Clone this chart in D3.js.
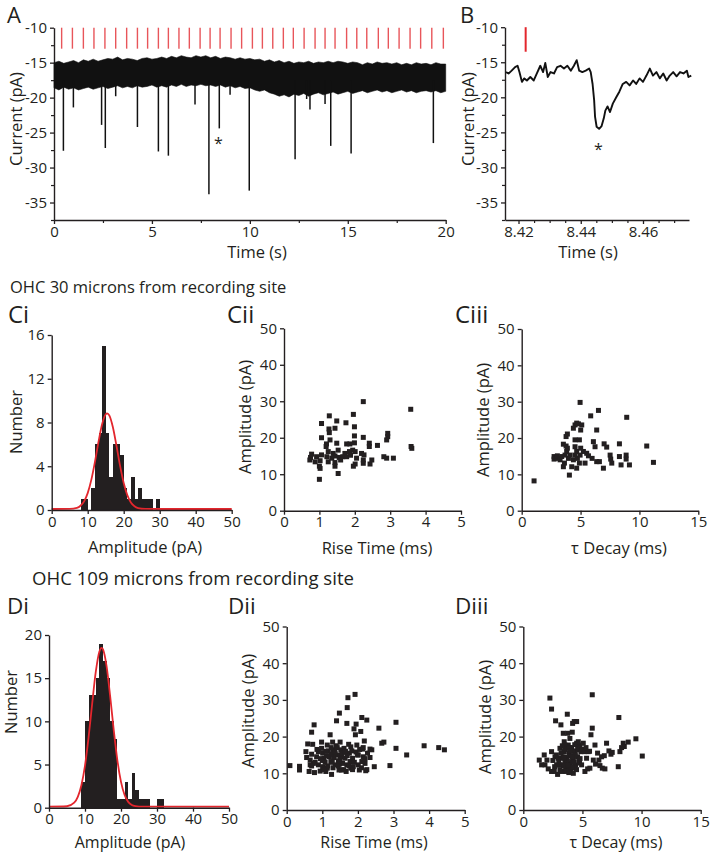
<!DOCTYPE html>
<html><head><meta charset="utf-8">
<script src="https://cdn.jsdelivr.net/npm/d3@7"></script>
<style>
body{margin:0;background:#fff}
svg{display:block}
text{font-family:'Open Sans',sans-serif;fill:#231f20}
</style>
</head><body>
<svg id="c" width="710" height="853"></svg>
<script>
// ---------------- DATA ----------------
// Panel A: 20 s recording, baseline noise envelope (pA)
const envTimes = [0,0.25,0.5,0.75,1,1.25,1.5,1.75,2,2.25,2.5,2.75,3,3.25,3.5,3.75,4,4.25,4.5,4.75,5,5.25,5.5,5.75,6,6.25,6.5,6.75,7,7.25,7.5,7.75,8,8.25,8.5,8.75,9,9.25,9.5,9.75,10,10.25,10.5,10.75,11,11.25,11.5,11.75,12,12.25,12.5,12.75,13,13.25,13.5,13.75,14,14.25,14.5,14.75,15,15.25,15.5,15.75,16,16.25,16.5,16.75,17,17.25,17.5,17.75,18,18.25,18.5,18.75,19,19.25,19.5,19.75,20];
const envUpper = [-15.0,-14.8,-15.1,-14.9,-14.7,-15.0,-14.6,-14.8,-14.5,-14.8,-14.6,-14.4,-14.5,-14.2,-14.6,-14.4,-14.5,-14.7,-14.4,-14.3,-14.5,-14.4,-14.2,-14.4,-14.1,-14.3,-14.0,-14.2,-14.3,-14.0,-14.2,-14.0,-14.3,-14.1,-14.4,-14.2,-14.3,-14.5,-14.3,-14.5,-14.4,-14.6,-14.5,-14.8,-14.6,-14.9,-14.7,-15.0,-14.8,-15.1,-14.9,-15.0,-14.8,-15.1,-14.9,-15.0,-14.8,-15.0,-14.8,-14.9,-15.1,-14.9,-15.0,-15.3,-15.0,-15.2,-14.9,-15.1,-15.0,-15.2,-15.0,-15.3,-15.1,-15.3,-15.0,-15.2,-15.1,-15.3,-15.0,-15.2,-15.2];
const envLower = [-18.6,-18.9,-18.5,-18.8,-18.6,-18.9,-18.7,-18.5,-18.8,-18.6,-18.4,-18.7,-18.5,-18.3,-18.6,-18.4,-18.6,-18.3,-18.5,-18.4,-18.2,-18.5,-18.3,-18.5,-18.2,-18.4,-18.1,-18.4,-18.2,-18.3,-18.1,-18.3,-18.2,-18.4,-18.2,-18.5,-18.3,-18.6,-18.4,-18.7,-18.6,-18.9,-19.1,-18.9,-19.3,-19.5,-19.8,-19.6,-19.9,-19.5,-19.7,-19.4,-19.8,-19.5,-19.3,-19.6,-19.4,-19.2,-19.5,-19.3,-19.1,-19.4,-19.2,-19.0,-19.3,-19.1,-18.9,-19.2,-19.0,-19.3,-19.1,-18.9,-19.2,-19.0,-19.3,-19.1,-19.0,-19.2,-19.0,-19.3,-19.1];
// spontaneous events (time s, peak pA)
const eventTimes = [0.48,0.99,2.43,2.62,3.15,4.26,5.33,5.84,7.2,7.91,8.44,8.99,9.97,12.31,12.9,13.07,13.84,14.13,15.17,19.37];
const eventPeaks = [-27.6,-21.4,-23.9,-27.2,-19.8,-24.2,-27.7,-28.3,-21,-33.8,-24.4,-19.6,-33.3,-28.8,-20.2,-21.7,-20.9,-26.9,-28.0,-26.5];
// stimulus markers (s)
const stimTimes = [0.39,0.94,1.50,2.04,2.60,3.15,3.71,4.26,4.78,5.33,5.84,6.38,6.91,7.46,7.97,8.48,9.04,9.58,10.13,10.64,11.17,11.71,12.22,12.77,13.33,13.84,14.35,14.94,15.46,15.97,16.56,17.07,17.62,18.18,18.72,19.29,19.88];
const starA = {t: 8.39, v: -26.1};

// Panel B: expanded single event
const traceBTime = [8.4160,8.4168,8.4178,8.4189,8.4197,8.4203,8.4211,8.4218,8.4227,8.4238,8.4249,8.4259,8.4270,8.4279,8.4286,8.4294,8.4303,8.4314,8.4324,8.4335,8.4346,8.4357,8.4368,8.4378,8.4387,8.4395,8.4405,8.4416,8.4427,8.4432,8.4438,8.4443,8.4446,8.4451,8.4459,8.4467,8.4474,8.4479,8.4486,8.4494,8.4503,8.4514,8.4524,8.4535,8.4546,8.4557,8.4568,8.4578,8.4589,8.4600,8.4611,8.4622,8.4632,8.4643,8.4654,8.4665,8.4676,8.4686,8.4697,8.4708,8.4719,8.4730,8.4741,8.4746,8.4755];
const traceBCurrent = [-16.4,-16.6,-16.2,-15.7,-15.5,-16.4,-17.8,-17.3,-17.6,-17.1,-17.6,-16.6,-15.5,-16.4,-15.1,-17.1,-16.4,-16.6,-15.7,-15.5,-15.9,-15.5,-16.2,-15.5,-14.7,-16.2,-16.4,-16.2,-15.9,-16.4,-18.1,-20.4,-22.8,-24.2,-24.5,-24.1,-23.0,-21.9,-21.3,-22.1,-20.9,-20.0,-19.2,-18.1,-17.8,-18.3,-17.6,-18.1,-17.3,-17.8,-16.9,-15.9,-16.9,-16.4,-17.3,-16.6,-17.6,-16.9,-16.4,-17.0,-16.4,-16.6,-16.2,-17.1,-16.9];
const stimB = 8.4223;
const starB = {t: 8.4457, v: -27};

// Ci histogram (bin start pA, count), 1 pA bins
const ciBins = [8,9,10,11,12,13,14,15,16,17,18,19,20,21,22,23,24,25,26,27,28,29];
const ciCounts = [1,1,0,2,6,7,15,7,3,6,6,5,2,1,3,1,2,1,1,1,0,1];
const ciFitX = [0,5,7,8,9,10,11,12,13,14,15,15.4,16,17,18,19,20,21,22,23,24,26,30,50];
const ciFitY = [0,0.01,0.11,0.30,0.70,1.45,2.66,4.29,6.14,7.75,8.66,8.75,8.56,7.47,5.77,3.94,2.38,1.27,0.60,0.25,0.09,0.01,0,0];

// Cii scatter
const ciiRise = [3.58,2.24,1.28,1.96,1.49,1.06,1.75,1.27,1.44,1.99,1.28,1.06,1.99,2.24,2.93,2.93,2.90,1.30,1.49,1.20,1.77,1.86,1.99,2.41,2.41,2.64,3.59,3.61,1.19,1.53,1.94,1.25,1.39,1.44,1.72,1.85,2.01,2.19,2.26,0.78,0.75,0.92,1.06,1.21,1.35,1.56,1.66,1.77,1.88,2.05,0.73,0.88,1.02,1.25,1.44,1.60,2.82,2.90,3.09,2.24,2.48,2.24,2.43,2.01,1.96,1.00,1.02,1.44,1.53,1.00];
const ciiAmp = [27.8,29.9,26.0,26.4,24.6,23.9,24.1,22.4,22.6,23.0,21.4,20.0,20.5,20.1,21.2,20.3,19.4,19.4,18.5,18.3,18.3,18.3,18.6,18.5,17.6,17.9,17.6,17.1,17.6,16.6,16.6,16.2,15.7,15.0,15.7,16.2,16.2,15.7,15.3,15.5,14.6,14.8,15.3,14.8,14.4,14.6,14.8,14.8,15.2,14.4,13.9,13.4,13.7,13.4,13.2,13.9,14.8,14.4,14.4,13.9,13.9,13.0,12.8,12.8,12.2,12.2,11.6,12.2,10.2,8.6];

// Ciii scatter
const ciiiDecay = [1.05,2.75,2.75,3.03,3.40,3.54,3.63,3.54,3.77,3.88,3.77,3.88,3.82,4.11,3.97,4.05,4.25,4.39,4.39,4.53,4.67,4.82,4.53,4.90,4.53,4.67,4.53,4.73,4.67,4.96,5.01,5.10,5.01,4.96,4.90,5.24,5.52,5.67,5.86,5.98,6.09,6.23,6.37,6.52,6.37,6.60,6.94,7.00,7.22,7.51,7.56,7.65,8.30,8.30,8.44,8.87,8.87,8.92,9.15,10.62,11.19,3.03,3.26,5.38,3.68];
const ciiiAmp = [8.2,14.9,14.2,14.4,14.9,12.1,13.1,18.3,20.4,21.1,17.8,17.2,16.3,15.3,14.4,9.8,12.1,14.0,22.7,23.6,24.1,23.9,19.5,19.5,17.6,16.3,15.3,14.4,11.7,29.8,22.2,23.6,17.2,15.3,13.1,16.3,15.8,15.1,26.1,14.4,19.0,17.6,22.2,27.6,13.5,13.5,11.7,18.4,17.5,15.3,14.2,13.1,18.4,14.9,12.6,15.3,14.2,25.7,12.6,17.8,13.3,15.1,14.0,13.1,15.3];

// Di histogram
const diBins = [9,10,11,12,13,14,15,16,17,18,19,20,21,22,23,24,25,26,27,28,29,30,31];
const diCounts = [3,10,13,13,15,19,17,15,10,8,1,1,3,1,4,2,1,1,1,0,0,1,1];
const diFitX = [0,5,7,8,9,10,11,12,13,14,14.6,15,16,17,18,19,20,21,22,23,24,26,30,50];
const diFitY = [0,0.05,0.46,1.14,2.49,4.77,8.05,11.96,15.63,17.98,18.4,18.21,16.24,12.75,8.80,5.35,2.87,1.35,0.56,0.20,0.07,0,0,0];

// Dii scatter
const diiRise = [0.09,0.36,0.36,0.54,0.59,0.56,0.63,0.70,0.77,0.73,0.66,0.70,0.75,0.78,0.84,0.89,0.94,0.98,0.98,1.01,1.05,1.08,1.10,1.14,1.17,1.20,1.22,1.24,1.26,1.29,1.31,1.33,1.36,1.39,1.40,1.43,1.45,1.47,1.48,1.50,1.52,1.54,1.57,1.61,1.64,1.67,1.69,1.70,1.72,1.74,1.76,1.78,1.80,1.83,1.85,1.89,1.92,1.93,1.95,1.97,1.99,2.01,2.04,2.08,2.11,2.13,2.15,2.18,2.20,2.22,2.25,2.27,2.34,2.39,2.46,2.59,2.67,2.73,2.90,3.07,3.07,3.37,3.86,4.27,4.43,1.54,1.87,1.01,0.66,1.14,1.36,1.69,2.11,1.25,1.48,0.89,2.01,1.64,2.34,
  1.0,1.1,1.15,1.25,1.3,1.35,1.42,1.45,1.55,1.6,1.7,1.75,1.8,1.9,1.95,2.05,2.1,2.15,2.2,2.25,0.8,0.85,0.95,1.05,0.7,1.12,1.28,1.5,1.65,1.85];
const diiAmp = [12.1,11.9,10.9,15.9,18.0,14.3,10.5,21.2,23.2,17.9,13.6,15.2,12.7,10.2,14.5,12.3,10.6,18.5,16.8,15.5,14.1,13.0,10.5,17.7,16.1,14.5,20.5,13.2,9.7,18.5,16.4,14.3,12.3,17.5,24.3,15.0,13.4,10.9,26.4,18.5,16.4,14.5,12.7,16.8,14.1,10.5,23.6,27.9,30.6,17.9,15.5,13.2,11.4,16.1,14.1,22.1,31.5,20.5,23.4,17.7,15.0,12.3,10.9,21.4,25.2,16.6,14.5,18.8,12.7,10.7,24.5,15.5,14.3,16.4,11.8,22.3,18.2,18.5,12.1,23.9,16.8,15.0,17.5,17.0,16.4,10.9,11.8,11.8,12.3,11.4,15.5,12.3,13.2,15.2,12.5,15.9,15.0,15.7,16.6,
  13.5,16.0,12.0,17.0,11.5,15.8,17.0,12.0,15.5,11.0,14.8,12.0,17.2,13.0,15.8,16.5,11.5,17.0,14.0,11.0,13.0,16.5,14.0,11.0,12.0,14.8,13.0,14.0,16.0,11.0];

// Diii scatter
const diiiDecay = [1.35,1.77,1.83,2.0,2.11,2.25,2.39,2.39,2.39,2.62,2.73,2.68,2.82,2.90,3.04,3.10,3.18,3.24,3.30,3.38,3.46,3.46,3.52,3.58,3.66,3.72,3.75,3.80,3.86,3.94,4.0,4.08,4.14,4.17,4.23,4.23,4.31,4.37,4.42,4.51,4.51,4.59,4.65,4.70,4.79,4.87,4.93,5.07,5.15,5.21,5.35,5.44,5.49,5.63,5.72,5.83,5.83,5.92,6.06,6.11,6.28,6.39,6.48,6.62,6.68,6.85,6.90,7.04,7.24,7.41,7.52,8.03,8.08,8.17,8.31,8.45,8.54,8.87,9.52,10.06,3.52,3.94,3.24,3.80,4.37,2.96,3.38,4.08,3.66,4.65,1.55,
  3.0,3.2,3.4,3.5,3.6,3.7,3.9,4.0,4.1,4.2,4.3,4.4,4.5,4.6,3.3,3.1,2.8,2.5,4.8,5.0,3.75,3.95,4.15,3.45,2.65,4.75,5.3,5.6,3.85,4.35];
const diiiAmp = [13.6,15.0,12.3,13.6,11.2,30.5,27.5,15.9,10.5,10.5,24.3,14.5,12.3,9.7,12.3,16.8,23.2,14.1,10.5,20.9,18.6,15.9,13.2,11.4,14.3,26.1,20.9,17.7,15.5,12.7,10.5,17.0,21.2,23.6,14.1,10.0,24.1,16.1,12.3,24.1,18.2,14.5,16.4,13.6,17.7,15.9,12.3,18.2,15.9,10.5,14.1,11.2,15.9,11.4,20.5,31.4,22.3,13.6,17.7,12.5,15.5,13.6,12.1,14.5,11.4,14.8,11.2,18.2,16.1,15.2,15.7,11.8,25.2,15.9,17.0,18.2,17.3,18.5,19.4,14.7,17.7,19.5,12.3,11.4,11.4,14.1,14.5,13.2,16.8,18.6,12.3,
  13.0,15.5,12.0,16.5,10.5,13.5,17.0,14.8,11.8,16.0,13.0,15.0,11.0,17.0,17.5,11.0,15.0,13.5,14.0,16.5,12.2,16.2,14.5,14.2,11.8,12.8,17.0,16.0,10.2,17.8];

// tick labels
const tracesYTicks = [-10,-15,-20,-25,-30,-35];
const tracesYMinor = [-12.5,-17.5,-22.5,-27.5,-32.5,-37.5];
const aXTicks = [0,5,10,15,20];
const aXMinor = [2.5,7.5,12.5,17.5];
const bXTicks = [8.42,8.44,8.46];
const bXMinor = [8.425,8.43,8.435,8.445,8.45,8.455,8.465,8.47];
const ampXTicks = [0,10,20,30,40,50];
const ciYTicks = [0,4,8,12,16];
const diYTicks = [0,5,10,15,20];
const scatYTicks = [0,10,20,30,40,50];
const riseTicks = [0,1,2,3,4,5];
const decayTicks = [0,5,10,15];

// ---------------- DRAWING ----------------
const svg = d3.select('#c');
const INK = '#231f20', RED = '#e3262d', STIM = '#e8555a';
const TICKFS = 15, TITLEFS = 16.5, TITLEFS_D = 16;

function styleAxis(g){
  g.attr('font-family',"'Open Sans',sans-serif").attr('font-size',TICKFS);
  g.select('.domain').attr('stroke',INK).attr('stroke-width',1.4);
  g.selectAll('.tick line').attr('stroke',INK).attr('stroke-width',1.3);
  g.selectAll('.tick text').attr('fill',INK);
}
function axes(x, y, xt, yt, opt){
  opt = opt || {};
  const y0 = y.range()[0], x0 = x.range()[0];
  const gx = svg.append('g').attr('transform',`translate(0,${y0})`)
    .call(d3.axisBottom(x).tickValues(xt).tickFormat(opt.xf || (d=>d)).tickSize(4).tickSizeOuter(0).tickPadding(2));
  styleAxis(gx);
  const gy = svg.append('g').attr('transform',`translate(${x0},0)`)
    .call(d3.axisLeft(y).tickValues(yt).tickFormat(opt.yf || (d=>d)).tickSize(4).tickSizeOuter(0).tickPadding(3));
  styleAxis(gy);
  if (opt.xm){
    const m = svg.append('g').attr('transform',`translate(0,${y0})`)
      .call(d3.axisBottom(x).tickValues(opt.xm).tickFormat('').tickSize(3).tickSizeOuter(0));
    m.select('.domain').remove(); m.selectAll('line').attr('stroke',INK).attr('stroke-width',1.2);
  }
  if (opt.ym){
    const m = svg.append('g').attr('transform',`translate(${x0},0)`)
      .call(d3.axisLeft(y).tickValues(opt.ym).tickFormat('').tickSize(3).tickSizeOuter(0));
    m.select('.domain').remove(); m.selectAll('line').attr('stroke',INK).attr('stroke-width',1.2);
  }
}
function text(str, x, y, fs, anchor, rot){
  const t = svg.append('text').text(str).attr('font-size',fs).attr('text-anchor',anchor||'start');
  if (rot) t.attr('transform',`translate(${x},${y}) rotate(-90)`).attr('dy','0.35em');
  else t.attr('x',x).attr('y',y);
  return t;
}
const minus = d => (d<0 ? '-' + Math.abs(d) : d);

// ----- Panel A -----
const xA = d3.scaleLinear().domain([0,20]).range([54,445.7]);
const yA = d3.scaleLinear().domain([-37.5,-10]).range([220,27.7]);
axes(xA, yA, aXTicks, tracesYTicks, {xm:aXMinor, ym:tracesYMinor, yf:minus});
svg.append('g').selectAll('line').data(stimTimes).join('line')
  .attr('x1',d=>xA(d)).attr('x2',d=>xA(d)).attr('y1',yA(-10)).attr('y2',yA(-13))
  .attr('stroke',STIM).attr('stroke-width',1.4);
const envIdx = d3.range(envTimes.length);
svg.append('path').datum(envIdx)
  .attr('d', d3.area().x(i=>xA(envTimes[i])).y0(i=>yA(envLower[i])).y1(i=>yA(envUpper[i])))
  .attr('fill','#111').attr('stroke','#111').attr('stroke-width',0.6);
svg.append('g').selectAll('line').data(d3.range(eventTimes.length)).join('line')
  .attr('x1',i=>xA(eventTimes[i])).attr('x2',i=>xA(eventTimes[i]))
  .attr('y1',yA(-17.5)).attr('y2',i=>yA(eventPeaks[i]))
  .attr('stroke','#111').attr('stroke-width',1.5);
text('*', xA(starA.t), yA(starA.v)+9, 16, 'middle');
text('A', 7, 23, 22);
text('Current (pA)', 16, 119, TITLEFS, 'middle', true);
text('Time (s)', 257, 258, TITLEFS, 'middle');

// ----- Panel B -----
const xB = d3.scaleLinear().domain([8.41566,8.47478]).range([505,689]);
const yB = d3.scaleLinear().domain([-37.5,-10]).range([220,27.2]);
axes(xB, yB, bXTicks, tracesYTicks, {xm:bXMinor, ym:tracesYMinor, yf:minus, xf:d3.format('.2f')});
svg.append('line').attr('x1',xB(stimB)).attr('x2',xB(stimB)).attr('y1',yB(-10)).attr('y2',yB(-13.5))
  .attr('stroke',RED).attr('stroke-width',2);
svg.append('path').datum(d3.range(traceBTime.length))
  .attr('d', d3.line().x(i=>xB(traceBTime[i])).y(i=>yB(traceBCurrent[i])))
  .attr('fill','none').attr('stroke','#111').attr('stroke-width',1.9).attr('stroke-linejoin','round');
text('*', xB(starB.t), yB(starB.v)+9, 16, 'middle');
text('B', 460, 23, 22);
text('Current (pA)', 468, 119, TITLEFS, 'middle', true);
text('Time (s)', 588, 258, TITLEFS, 'middle');

// ----- section titles -----
text('OHC 30 microns from recording site', 10, 293, 16.5);
text('OHC 109 microns from recording site', 32, 585, 18.6);

// histogram helper
function hist(x, y, bins, counts, fitX, fitY){
  svg.append('g').selectAll('rect').data(d3.range(bins.length)).join('rect')
    .attr('x',i=>x(bins[i])).attr('width',i=>x(bins[i]+1)-x(bins[i]))
    .attr('y',i=>y(counts[i])).attr('height',i=>y(0)-y(counts[i]))
    .attr('fill',INK).attr('shape-rendering','crispEdges');
  svg.append('path').datum(d3.range(fitX.length))
    .attr('d', d3.line().x(i=>x(fitX[i])).y(i=>y(fitY[i])-1).curve(d3.curveMonotoneX))
    .attr('fill','none').attr('stroke',RED).attr('stroke-width',1.8);
}
function scatter(x, y, xs, ys){
  svg.append('g').selectAll('rect').data(d3.range(xs.length)).join('rect')
    .attr('x',i=>x(xs[i])-2.5).attr('y',i=>y(ys[i])-2.5).attr('width',5).attr('height',5)
    .attr('fill',INK);
}

// ----- Ci -----
const xCi = d3.scaleLinear().domain([0,50]).range([51.7,231.7]);
const yCi = d3.scaleLinear().domain([0,16]).range([510,335]);
hist(xCi, yCi, ciBins, ciCounts, ciFitX, ciFitY);
axes(xCi, yCi, ampXTicks, ciYTicks);
text('Ci', 8, 323, 24);
text('Number', 16, 422, TITLEFS, 'middle', true);
text('Amplitude (pA)', 145, 553, TITLEFS, 'middle');

// ----- Cii -----
const xCii = d3.scaleLinear().domain([0,5]).range([284,461]);
const yCii = d3.scaleLinear().domain([0,50]).range([510.7,328.3]);
axes(xCii, yCii, riseTicks, scatYTicks);
scatter(xCii, yCii, ciiRise, ciiAmp);
text('Cii', 227, 323, 24);
text('Amplitude (pA)', 245, 417, TITLEFS, 'middle', true);
text('Rise Time (ms)', 377, 554, TITLEFS, 'middle');

// ----- Ciii -----
const xCiii = d3.scaleLinear().domain([0,15]).range([521.7,698.3]);
const yCiii = d3.scaleLinear().domain([0,50]).range([510.7,329]);
axes(xCiii, yCiii, decayTicks, scatYTicks);
scatter(xCiii, yCiii, ciiiDecay, ciiiAmp);
text('Ciii', 455, 323, 24);
text('Amplitude (pA)', 483, 420, TITLEFS, 'middle', true);
text('\u03c4 Decay (ms)', 619, 554, TITLEFS, 'middle');

// ----- Di -----
const xDi = d3.scaleLinear().domain([0,50]).range([49,229]);
const yDi = d3.scaleLinear().domain([0,20]).range([807.7,635]);
hist(xDi, yDi, diBins, diCounts, diFitX, diFitY);
axes(xDi, yDi, ampXTicks, diYTicks);
text('Di', 7, 614, 22.5);
text('Number', 11, 702, TITLEFS, 'middle', true);
text('Amplitude (pA)', 130, 848, TITLEFS_D, 'middle');

// ----- Dii -----
const xDii = d3.scaleLinear().domain([0,5]).range([286.7,464.7]);
const yDii = d3.scaleLinear().domain([0,50]).range([810,626.5]);
axes(xDii, yDii, riseTicks, scatYTicks);
scatter(xDii, yDii, diiRise, diiAmp);
text('Dii', 228, 614, 22.5);
text('Amplitude (pA)', 248, 711, TITLEFS, 'middle', true);
text('Rise Time (ms)', 374, 848, TITLEFS_D, 'middle');

// ----- Diii -----
const xDiii = d3.scaleLinear().domain([0,15]).range([523.3,700.7]);
const yDiii = d3.scaleLinear().domain([0,50]).range([810,626.5]);
axes(xDiii, yDiii, decayTicks, scatYTicks);
scatter(xDiii, yDiii, diiiDecay, diiiAmp);
text('Diii', 455, 614, 22.5);
text('Amplitude (pA)', 485, 717, TITLEFS, 'middle', true);
text('\u03c4 Decay (ms)', 616, 848, TITLEFS_D, 'middle');
</script>
</body></html>
